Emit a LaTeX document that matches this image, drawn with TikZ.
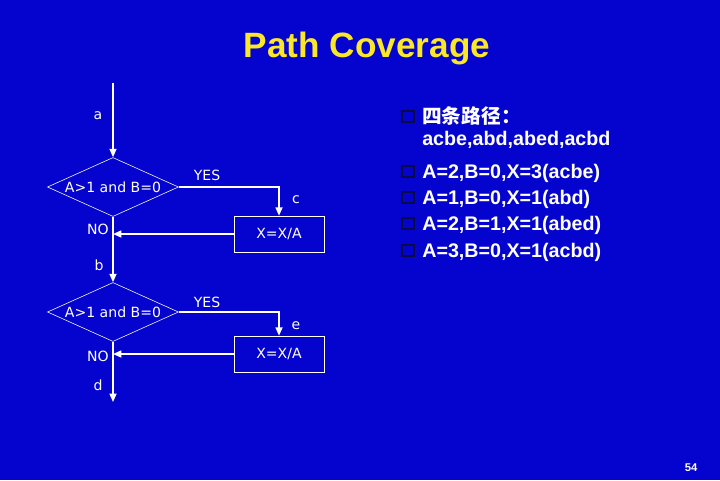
\documentclass[tikz,border=0pt]{standalone}
\usepackage{fontspec}
\setmainfont{Liberation Sans}
\newfontfamily\cjk{Noto Sans CJK SC}
\newfontfamily\flowfont{DejaVu Sans}
\usepackage{tikz}
\usetikzlibrary{arrows.meta, positioning, shapes.geometric}
\definecolor{slideblue}{RGB}{4, 4, 206}
\definecolor{slideyellow}{RGB}{250, 232, 40}
\definecolor{bulletdark}{RGB}{10, 10, 70}

\begin{document}
\begin{tikzpicture}[
        x=0.025cm, y=-0.025cm,
        decision/.style={diamond, draw=white, thin, aspect=2.2, inner sep=0pt, minimum width=3.275cm, minimum height=1.475cm, text=white, font=\flowfont\fontsize{10}{12}\selectfont},
        process/.style={rectangle, draw=white, thin, minimum width=2.25cm, minimum height=0.9cm, text=white, font=\flowfont\fontsize{10}{12}\selectfont},
        flowlabel/.style={text=white, font=\flowfont\fontsize{10}{12}\selectfont, inner sep=1pt},
        pathtext/.style={anchor=base west, text=white, font=\bfseries\fontsize{14}{16}\selectfont, inner sep=0pt},
        arrow/.style={-{Triangle[length=6pt, width=5pt]}, line width=1.1pt, draw=white}
    ]
        \fill[slideblue] (0,0) rectangle (720,480);
        \node[text=slideyellow, font=\bfseries\fontsize{25}{28}\selectfont, anchor=base] (title) at (367,57) {Path Coverage};

        % first decision
        \coordinate (start) at (113,83);
        \node[decision] (d1) at (113,187) {A>1 and B=0};
        \node[process] (p1) at (279,234) {X=X/A};
        % second decision
        \node[decision] (d2) at (113,312) {A>1 and B=0};
        \node[process] (p2) at (279,354) {X=X/A};
        \coordinate (end) at (113,402);

        \draw[arrow] (start) -- (d1);
        \draw[arrow] (d1.east) -| (p1.north);
        \draw[arrow] (p1.west) -- (p1.west -| d1.south);
        \draw[arrow] (d1.south) -- (d2.north);
        \draw[arrow] (d2.east) -| (p2.north);
        \draw[arrow] (p2.west) -- (p2.west -| d2.south);
        \draw[arrow] (d2.south) -- (end);

        \node[flowlabel] (la) at (98,116) {a};
        \node[flowlabel] (yes1) at (207,175) {YES};
        \node[flowlabel] (lc) at (296,200) {c};
        \node[flowlabel] (no1) at (98,229) {NO};
        \node[flowlabel] (lb) at (99,265) {b};
        \node[flowlabel] (yes2) at (207,302) {YES};
        \node[flowlabel] (le) at (296,326) {e};
        \node[flowlabel] (no2) at (98,356) {NO};
        \node[flowlabel] (ld) at (98,385) {d};

        % path list
        \node[pathtext] (t0) at (422,123) {\cjk 四条路径：};
        \node[pathtext] (t1) at (422,145) {acbe,abd,abed,acbd};
        \node[pathtext] (t2) at (422,178) {A=2,B=0,X=3(acbe)};
        \node[pathtext] (t3) at (422,204) {A=1,B=0,X=1(abd)};
        \node[pathtext] (t4) at (422,230) {A=2,B=1,X=1(abed)};
        \node[pathtext] (t5) at (422,257) {A=3,B=0,X=1(acbd)};
        \foreach \t in {t0,t2,t3,t4,t5}
            \draw[bulletdark, line width=1pt] ([shift={(-20,-12)}]\t.base west) rectangle +(12,11);

        \node[text=white, font=\bfseries\fontsize{8}{10}\selectfont] (page) at (691,468) {54};
\end{tikzpicture}
\end{document}
